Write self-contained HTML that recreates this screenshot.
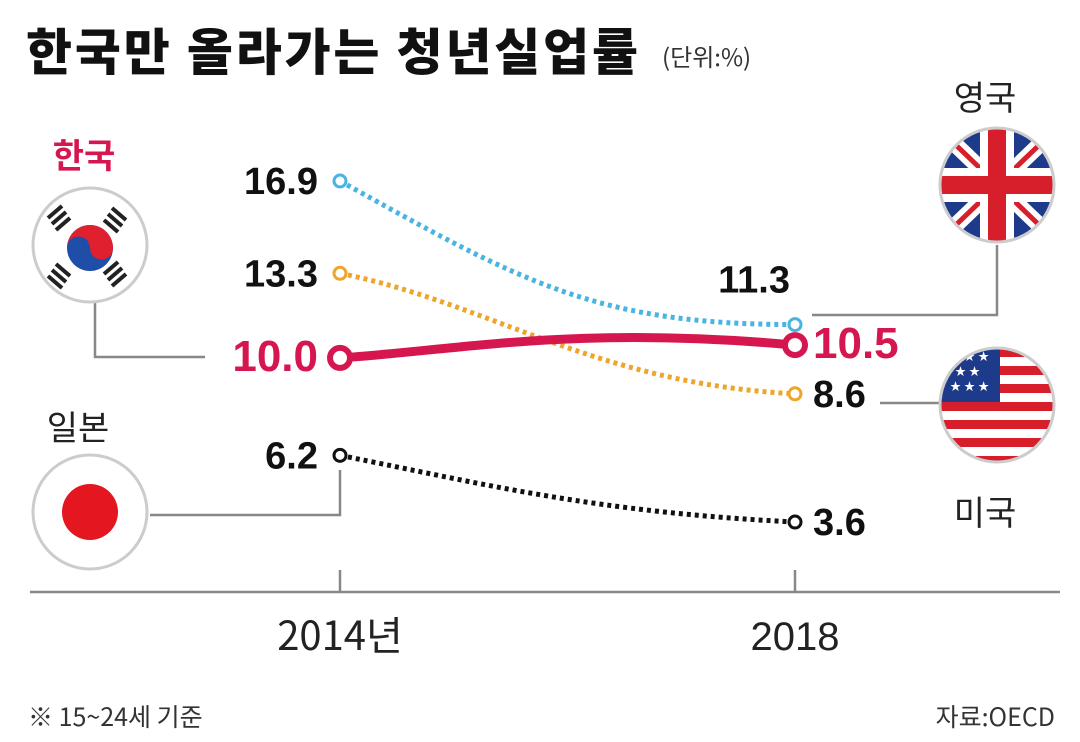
<!DOCTYPE html>
<html><head><meta charset="utf-8"><style>
body{margin:0;background:#fff;}
svg text{font-family:"Liberation Sans Narrow","Liberation Sans","Noto Sans CJK KR",sans-serif;}
</style></head><body>
<svg width="1080" height="737" viewBox="0 0 1080 737" xmlns="http://www.w3.org/2000/svg">
<text x="26" y="70" font-size="50" font-weight="900" fill="#111" textLength="612" style="font-family:'Noto Sans CJK KR',sans-serif">한국만 올라가는 청년실업률</text>
<text x="662" y="66" font-size="24" fill="#333" style="font-family:'Noto Sans CJK KR',sans-serif">(단위:%)</text>

<g stroke="#888" stroke-width="2.5" fill="none">
<polyline points="95,300 95,357 205,357"/>
<polyline points="150,515 340,515 340,470"/>
<polyline points="997,245 997,315 812,315"/>
<polyline points="880,403 940,403"/>
</g>
<line x1="30" y1="592" x2="1060" y2="592" stroke="#888" stroke-width="2.5"/>
<line x1="340" y1="570" x2="340" y2="592" stroke="#888" stroke-width="2.5"/>
<line x1="795" y1="570" x2="795" y2="592" stroke="#888" stroke-width="2.5"/>
<text x="340" y="650" font-size="40" text-anchor="middle" fill="#222" style="font-family:'Liberation Sans Narrow','Noto Sans CJK KR',sans-serif">2014년</text>
<text x="795" y="650" font-size="40" text-anchor="middle" fill="#222">2018</text>

<g id="series"></g>

<g>
<circle cx="90" cy="245" r="57" fill="#fff" stroke="#ccc" stroke-width="3"/>
<circle cx="90" cy="248" r="23" fill="#1f4ea8"/>
<path d="M67,248 A23,23 0 0 1 113,248 A11.5,11.5 0 0 1 90,248 A11.5,11.5 0 0 0 67,248Z" fill="#e0202e"/>
<g stroke="#222" stroke-width="4">
<line x1="48" y1="218" x2="62" y2="206"/><line x1="52" y1="224" x2="66" y2="212"/><line x1="56" y1="230" x2="70" y2="218"/>
<line x1="112" y1="208" x2="126" y2="220"/><line x1="108" y1="214" x2="122" y2="226"/><line x1="104" y1="220" x2="118" y2="232"/>
<line x1="48" y1="276" x2="62" y2="288"/><line x1="52" y1="270" x2="66" y2="282"/><line x1="56" y1="264" x2="70" y2="276"/>
<line x1="112" y1="286" x2="126" y2="274"/><line x1="108" y1="280" x2="122" y2="268"/><line x1="104" y1="274" x2="118" y2="262"/>
</g></g>
<text x="84" y="168" font-size="34" font-weight="bold" fill="#d6174f" text-anchor="middle" style="font-family:'Noto Sans CJK KR',sans-serif">한국</text>

<g>
<circle cx="90" cy="512" r="57" fill="#fff" stroke="#ccc" stroke-width="3"/>
<circle cx="90" cy="512" r="28" fill="#e4161f"/>
</g>
<text x="78" y="440" font-size="34" fill="#222" text-anchor="middle" style="font-family:'Noto Sans CJK KR',sans-serif">일본</text>

<defs>
<clipPath id="ukc"><circle cx="997" cy="185" r="57"/></clipPath>
<clipPath id="usc"><circle cx="997" cy="405" r="57"/></clipPath>
</defs>
<g clip-path="url(#ukc)">
<rect x="930" y="120" width="140" height="130" fill="#1e3a8a"/>
<g stroke="#fff" stroke-width="16"><line x1="935" y1="125" x2="1060" y2="245"/><line x1="1060" y1="125" x2="935" y2="245"/></g>
<g stroke="#d71f2b" stroke-width="5"><line x1="935" y1="125" x2="1060" y2="245"/><line x1="1060" y1="125" x2="935" y2="245"/></g>
<rect x="930" y="168" width="140" height="34" fill="#fff"/><rect x="980" y="120" width="34" height="130" fill="#fff"/>
<rect x="930" y="176" width="140" height="18" fill="#d71f2b"/><rect x="988" y="120" width="18" height="130" fill="#d71f2b"/>
</g>
<circle cx="997" cy="185" r="57" fill="none" stroke="#ccc" stroke-width="3"/>
<text x="985" y="110" font-size="34" fill="#222" text-anchor="middle" style="font-family:'Noto Sans CJK KR',sans-serif">영국</text>

<g clip-path="url(#usc)">
<rect x="930" y="340" width="140" height="130" fill="#fff"/>
<g fill="#d71f2b"><rect x="930" y="348" width="140" height="9"/><rect x="930" y="366" width="140" height="9"/><rect x="930" y="384" width="140" height="9"/><rect x="930" y="402" width="140" height="9"/><rect x="930" y="420" width="140" height="9"/><rect x="930" y="438" width="140" height="9"/><rect x="930" y="456" width="140" height="9"/></g>
<rect x="930" y="340" width="70" height="62" fill="#1e3a8a"/>
<g fill="#fff" font-size="11"><text x="950" y="360">★ ★ ★</text><text x="955" y="375">★ ★</text><text x="950" y="390">★ ★ ★</text></g>
</g>
<circle cx="997" cy="405" r="57" fill="none" stroke="#ccc" stroke-width="3"/>
<text x="985" y="525" font-size="34" fill="#222" text-anchor="middle" style="font-family:'Noto Sans CJK KR',sans-serif">미국</text>

<text x="28" y="726" font-size="25" fill="#333" style="font-family:'Noto Sans CJK KR',sans-serif">※ 15~24세 기준</text>
<text x="1055" y="726" font-size="25" fill="#333" text-anchor="end" style="font-family:'Noto Sans CJK KR',sans-serif">자료:OECD</text>
</svg>
<script>
const years=["2014","2018"];
const seriesNames=["uk","us","korea","japan"];
const v2014=[16.9,13.3,10.0,6.2];
const v2018=[11.3,8.6,10.5,3.6];
const colors=["#49b4e2","#eea52c","#d6174f","#111"];
function xs(i){return 340+i*455;}
function ys(v){return 181+(16.9-v)*25.64;}
const g=document.getElementById('series');
const NS="http://www.w3.org/2000/svg";
function mk(t,a){const e=document.createElementNS(NS,t);for(const k in a)e.setAttribute(k,a[k]);g.appendChild(e);return e;}
seriesNames.forEach((n,i)=>{
  const x0=xs(0),x1=xs(1),y0=ys(v2014[i]),y1=ys(v2018[i]);
  const korea=n==="korea";
  let d;
  if(n==="uk") d=`M${x0},${y0} C${x0+180},${y0+100} ${x1-200},${y1} ${x1},${y1}`;
  else if(korea) d=`M${x0},${y0} C${x0+120},${y0-8} ${x1-220},${y1-20} ${x1},${y1}`;
  else d=`M${x0},${y0} C${x0+150},${y0+30} ${x1-200},${y1-10} ${x1},${y1}`;
  const p=mk('path',{d:d,fill:'none',stroke:colors[i],'stroke-width':korea?9:5,'stroke-dasharray':korea?'none':'4 4'});
  
  
  [[x0,y0],[x1,y1]].forEach((pt,j)=>{
    const c=mk('circle',{cx:pt[0],cy:pt[1],r:korea?10:6,fill:'#fff',stroke:colors[i],'stroke-width':korea?6:3});
    
    
  });
  const fs=korea?44:38, col=korea?colors[i]:'#111';
  const t0=mk('text',{x:x0-22,y:y0+13,'font-size':fs,'font-weight':'bold',fill:col,'text-anchor':'end'});
  t0.textContent=v2014[i].toFixed(1);
  
  
  let lx=x1+18,ly=y1+13,anc='start';
  if(n==="uk"){lx=x1-5;ly=y1-32;anc='end';}
  const t1=mk('text',{x:lx,y:ly,'font-size':fs,'font-weight':'bold',fill:col,'text-anchor':anc});
  t1.textContent=v2018[i].toFixed(1);
  
  
});
</script>
</body></html>
